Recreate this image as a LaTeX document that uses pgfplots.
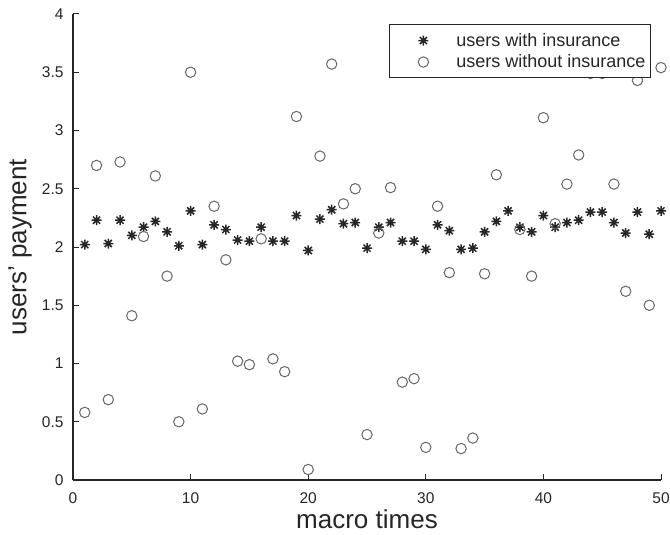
\documentclass[border=0pt]{standalone}
\usepackage{pgfplots}
\pgfplotsset{compat=1.18}
\usepackage{pgfplotstable}
\usepackage{fontspec}
\setmainfont{Liberation Sans}
\pgfdeclareplotmark{mstar}{%
 \pgfpathmoveto{\pgfqpoint{-\pgfplotmarksize}{0pt}}%
 \pgfpathlineto{\pgfqpoint{\pgfplotmarksize}{0pt}}%
 \pgfpathmoveto{\pgfqpoint{0pt}{-\pgfplotmarksize}}%
 \pgfpathlineto{\pgfqpoint{0pt}{\pgfplotmarksize}}%
 \pgfpathmoveto{\pgfqpoint{-.7071\pgfplotmarksize}{-.7071\pgfplotmarksize}}%
 \pgfpathlineto{\pgfqpoint{.7071\pgfplotmarksize}{.7071\pgfplotmarksize}}%
 \pgfpathmoveto{\pgfqpoint{-.7071\pgfplotmarksize}{.7071\pgfplotmarksize}}%
 \pgfpathlineto{\pgfqpoint{.7071\pgfplotmarksize}{-.7071\pgfplotmarksize}}%
 \pgfusepathqstroke}
\pgfplotstableread{
x y
1 2.02
2 2.23
3 2.03
4 2.23
5 2.10
6 2.17
7 2.22
8 2.13
9 2.01
10 2.31
11 2.02
12 2.19
13 2.15
14 2.06
15 2.05
16 2.17
17 2.05
18 2.05
19 2.27
20 1.97
21 2.24
22 2.32
23 2.20
24 2.21
25 1.99
26 2.17
27 2.21
28 2.05
29 2.05
30 1.98
31 2.19
32 2.14
33 1.98
34 1.99
35 2.13
36 2.22
37 2.31
38 2.17
39 2.13
40 2.27
41 2.17
42 2.21
43 2.23
44 2.30
45 2.30
46 2.21
47 2.12
48 2.30
49 2.11
50 2.31
}\withins
\pgfplotstableread{
x y
1 0.58
2 2.70
3 0.69
4 2.73
5 1.41
6 2.09
7 2.61
8 1.75
9 0.50
10 3.50
11 0.61
12 2.35
13 1.89
14 1.02
15 0.99
16 2.07
17 1.04
18 0.93
19 3.12
20 0.09
21 2.78
22 3.57
23 2.37
24 2.50
25 0.39
26 2.12
27 2.51
28 0.84
29 0.87
30 0.28
31 2.35
32 1.78
33 0.27
34 0.36
35 1.77
36 2.62
38 2.15
39 1.75
40 3.11
41 2.20
42 2.54
43 2.79
44 3.49
45 3.49
46 2.54
47 1.62
48 3.43
49 1.50
50 3.54
}\withoutins
\begin{document}
\begin{tikzpicture}
\begin{axis}[
 name=ax,
 scale only axis,
 width=588bp, height=466bp,
 xmin=0, xmax=50, ymin=0, ymax=4,
 xtick={0,10,...,50},
 ytick={0,0.5,...,4},
 axis lines=left,
 axis line style={-, black!85, line width=1.1bp},
 tick align=inside,
 major tick length=6bp,
 tick style={black!85, line width=1bp},
 /pgf/number format/assume math mode=true,
 tick label style={font=\fontsize{15.5bp}{18bp}\selectfont, text=black!85},
 xticklabel style={yshift=-9bp},
 yticklabel style={xshift=-6bp},
 xlabel={macro times},
 ylabel={users' payment},
 label style={font=\fontsize{26bp}{30bp}\selectfont, text=black!85},
 xlabel style={at={(axis description cs:0.5,-0.105)}, anchor=base},
 ylabel style={at={(axis description cs:-0.090,0.5)}, anchor=center},
 legend style={at={(0.983,0.978)}, anchor=north east, draw=black!85, line width=1bp,
   font=\fontsize{18bp}{20bp}\selectfont, text=black!85, cells={anchor=west},
   row sep=3bp, inner xsep=3bp, inner ysep=6.5bp},
 legend image code/.code={\path[mark repeat=2,mark phase=2,#1,draw=none] plot coordinates {(0bp,0bp)(31bp,0bp)(62bp,0bp)};},
 clip=false,
]
\addplot[draw=none, mark=mstar, mark size=5bp, mark options={draw=black!85, line width=1.5bp}] table[x=x,y=y] {\withins};
\addlegendentry{users with insurance}
\addplot[draw=none, mark=o, mark size=5.2bp, mark options={draw=black!60, line width=1bp}] table[x=x,y=y] {\withoutins};
\addlegendentry{users without insurance}
\end{axis}
\pgfresetboundingbox
\path[use as bounding box] ([xshift=-73bp,yshift=-55bp]ax.south west) rectangle ([xshift=9bp,yshift=14bp]ax.north east);
\end{tikzpicture}
\end{document}
